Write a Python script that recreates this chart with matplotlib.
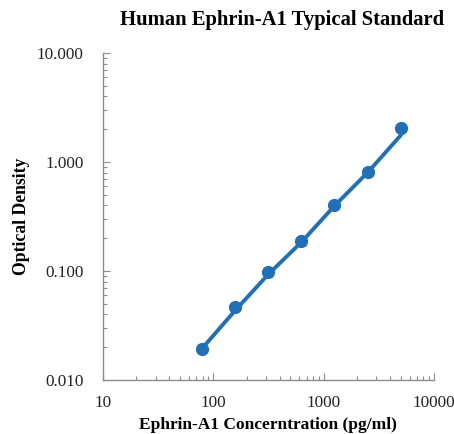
import numpy as np
import matplotlib
matplotlib.use("Agg")
import matplotlib.pyplot as plt
from matplotlib.ticker import FixedLocator, LogLocator, NullFormatter, FixedFormatter

conc = [78.125, 156.25, 312.5, 625, 1250, 2500, 5000]
od = [0.0192, 0.0463, 0.097, 0.187, 0.405, 0.81, 2.06]
# curve drawn through the standards
curve_conc = [78.125, 156.25, 312.5, 625, 1250, 2500, 5000, 5000]
curve_od = [0.0192, 0.0430, 0.0925, 0.183, 0.395, 0.80, 1.76, 2.06]
x_ticks = [10, 100, 1000, 10000]
x_labels = ["10", "100", "1000", "10000"]
y_ticks = [0.01, 0.1, 1, 10]
y_labels = ["0.010", "0.100", "1.000", "10.000"]

plt.rcParams['font.family'] = ['Liberation Serif', 'DejaVu Serif']
blue = '#1f70b8'
gray = '#8c8c8c'

fig = plt.figure(figsize=(4.54, 4.34), dpi=100)
ax = fig.add_axes([103/454, 1-380/434, (434-103)/454, (380-53)/434])

ax.plot(curve_conc, curve_od, color=blue, lw=2.8, solid_capstyle='round',
        solid_joinstyle='round', zorder=2)
ax.plot(conc, od, 'o', color=blue, ms=8.5, zorder=3)

ax.set_xscale('log')
ax.set_yscale('log')
ax.set_xlim(10, 10000)
ax.set_ylim(0.01, 10)
ax.xaxis.set_major_locator(FixedLocator(x_ticks))
ax.xaxis.set_major_formatter(FixedFormatter(x_labels))
ax.yaxis.set_major_locator(FixedLocator(y_ticks))
ax.yaxis.set_major_formatter(FixedFormatter(y_labels))
ax.xaxis.set_minor_locator(LogLocator(base=10, subs=np.arange(2, 10)))
ax.yaxis.set_minor_locator(LogLocator(base=10, subs=np.arange(2, 10)))
ax.xaxis.set_minor_formatter(NullFormatter())
ax.yaxis.set_minor_formatter(NullFormatter())

for s in ['top', 'right']:
    ax.spines[s].set_visible(False)
for s in ['left', 'bottom']:
    ax.spines[s].set_color(gray)
    ax.spines[s].set_linewidth(1.0)
ax.tick_params(which='both', direction='in', color=gray, width=0.8, labelsize=12.3, labelcolor='#222222')
ax.tick_params(which='major', length=5)
ax.tick_params(axis='y', which='major', pad=14)
ax.tick_params(axis='x', which='major', pad=11)
ax.tick_params(which='minor', length=3)

fig.text(268/454, 1-425/434, 'Ephrin-A1 Concerntration (pg/ml)', ha='center', va='center',
         fontsize=12.5, fontweight='bold')
fig.text(22/454, 1-216/434, 'Optical Density', ha='center', va='center', rotation=90,
         fontsize=12.7, fontweight='bold')
fig.text(282/454, 1-20/434, 'Human Ephrin-A1 Typical Standard', ha='center', va='center',
         fontsize=14.9, fontweight='bold')

fig.savefig('out.png', dpi=100)
